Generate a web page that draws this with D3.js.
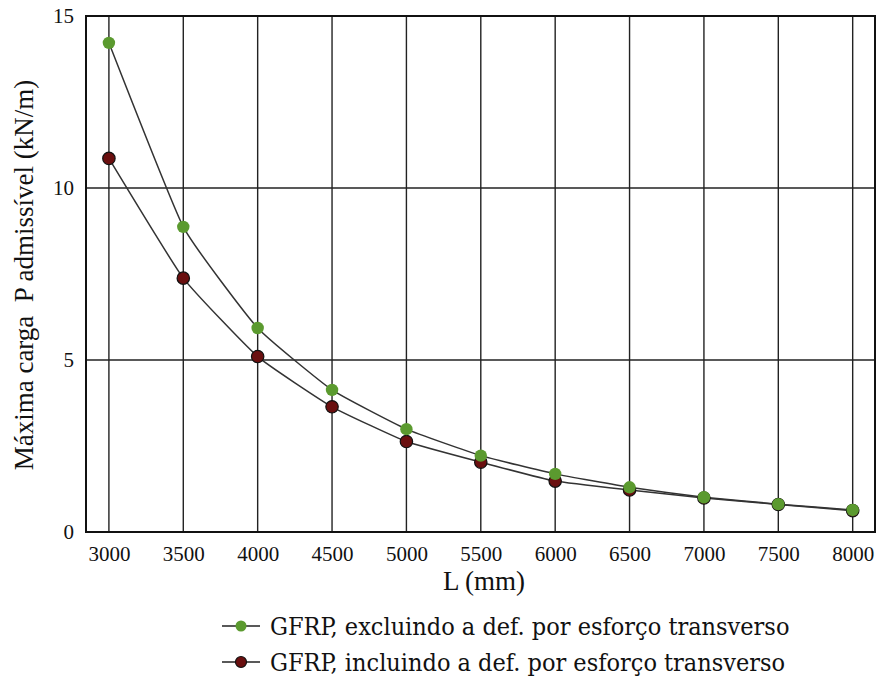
<!DOCTYPE html>
<html>
<head>
<meta charset="utf-8">
<script src="https://cdn.jsdelivr.net/npm/d3@7"></script>
<style>
  body { margin: 0; background: #fff; }
  text { font-family: "Liberation Serif", "DejaVu Serif", serif; fill: #111; }
</style>
</head>
<body>
<script>
// data
var lengths = [3000, 3500, 4000, 4500, 5000, 5500, 6000, 6500, 7000, 7500, 8000];
var excluindo = [14.22, 8.87, 5.93, 4.13, 2.99, 2.22, 1.69, 1.30, 1.01, 0.81, 0.64];
var incluindo = [10.86, 7.38, 5.10, 3.64, 2.63, 2.03, 1.48, 1.22, 0.99, 0.80, 0.62];
var yTicks = [0, 5, 10, 15];
var legendLabels = ["GFRP, excluindo a def. por esforço transverso",
                    "GFRP, incluindo a def. por esforço transverso"];

var width = 876, height = 678;
var plotLeft = 86, plotRight = 875, plotTop = 16, plotBottom = 532;

var svg = d3.select("body").append("svg")
  .attr("width", width)
  .attr("height", height);

var x = d3.scaleLinear().domain([2846, 8150]).range([plotLeft, plotRight]);
var y = d3.scaleLinear().domain([0, 15]).range([plotBottom, plotTop]);

// grid
svg.append("g").selectAll("line")
  .data(lengths)
  .enter().append("line")
  .attr("x1", function(d) { return x(d); })
  .attr("x2", function(d) { return x(d); })
  .attr("y1", plotTop).attr("y2", plotBottom)
  .attr("stroke", "#222").attr("stroke-width", 1.4);

svg.append("g").selectAll("line")
  .data([5, 10])
  .enter().append("line")
  .attr("x1", plotLeft).attr("x2", plotRight)
  .attr("y1", function(d) { return y(d); })
  .attr("y2", function(d) { return y(d); })
  .attr("stroke", "#222").attr("stroke-width", 1.4);

// frame
svg.append("rect")
  .attr("x", plotLeft).attr("y", plotTop)
  .attr("width", plotRight - plotLeft).attr("height", plotBottom - plotTop)
  .attr("fill", "none").attr("stroke", "#111").attr("stroke-width", 2);

// axes (labels only, the frame is drawn above)
var xAxis = svg.append("g")
  .attr("transform", "translate(0," + plotBottom + ")")
  .call(d3.axisBottom(x).tickValues(lengths).tickSize(0).tickPadding(14).tickFormat(d3.format("d")));
xAxis.select(".domain").remove();
xAxis.selectAll("text").style("font-size", "21px")
  .style("font-family", "Liberation Serif");

var yAxis = svg.append("g")
  .attr("transform", "translate(" + plotLeft + ",0)")
  .call(d3.axisLeft(y).tickValues(yTicks).tickSize(0).tickPadding(12));
yAxis.select(".domain").remove();
yAxis.selectAll("text").style("font-size", "21px")
  .style("font-family", "Liberation Serif");

// axis titles
svg.append("text")
  .attr("x", 484).attr("y", 590)
  .attr("text-anchor", "middle")
  .style("font-size", "27px")
  .text("L (mm)");

svg.append("text")
  .attr("transform", "translate(33,275) rotate(-90)")
  .attr("text-anchor", "middle")
  .style("font-size", "27px")
  .style("white-space", "pre")
  .text("Máxima carga  P admissível (kN/m)");

// series
var series = [
  { values: excluindo, fill: "#5b9a2f", stroke: "none" },
  { values: incluindo, fill: "#6a0f0f", stroke: "#111" }
];

var line = d3.line()
  .x(function(d) { return x(d[0]); })
  .y(function(d) { return y(d[1]); })
  .curve(d3.curveCardinal.tension(0.6));

series.forEach(function(s) {
  svg.append("path")
    .datum(lengths.map(function(l, i) { return [l, s.values[i]]; }))
    .attr("d", line)
    .attr("fill", "none")
    .attr("stroke", "#333")
    .attr("stroke-width", 1.5);
});

// incluindo dots first so the green ones sit on top
[series[1], series[0]].forEach(function(s) {
  svg.append("g").selectAll("circle")
    .data(lengths.map(function(l, i) { return [l, s.values[i]]; }))
    .enter().append("circle")
    .attr("cx", function(d) { return x(d[0]); })
    .attr("cy", function(d) { return y(d[1]); })
    .attr("r", 6.2)
    .attr("fill", s.fill)
    .attr("stroke", s.stroke)
    .attr("stroke-width", 1.2);
});

// legend
var legend = svg.append("g").selectAll("g")
  .data(legendLabels)
  .enter().append("g")
  .attr("transform", function(d, i) { return "translate(222," + (626 + i * 36) + ")"; });

legend.append("line")
  .attr("x1", 0).attr("x2", 38)
  .attr("stroke", "#222").attr("stroke-width", 1.6);

legend.append("circle")
  .attr("cx", 19).attr("r", 5.5)
  .attr("fill", function(d, i) { return series[i].fill; })
  .attr("stroke", function(d, i) { return series[i].stroke; })
  .attr("stroke-width", 1.2);

legend.append("text")
  .attr("x", 48).attr("dy", "0.35em")
  .style("font-size", "25px")
  .style("font-family", "'DejaVu Serif Condensed', 'Liberation Serif', serif")
  .text(function(d) { return d; });
</script>
</body>
</html>
